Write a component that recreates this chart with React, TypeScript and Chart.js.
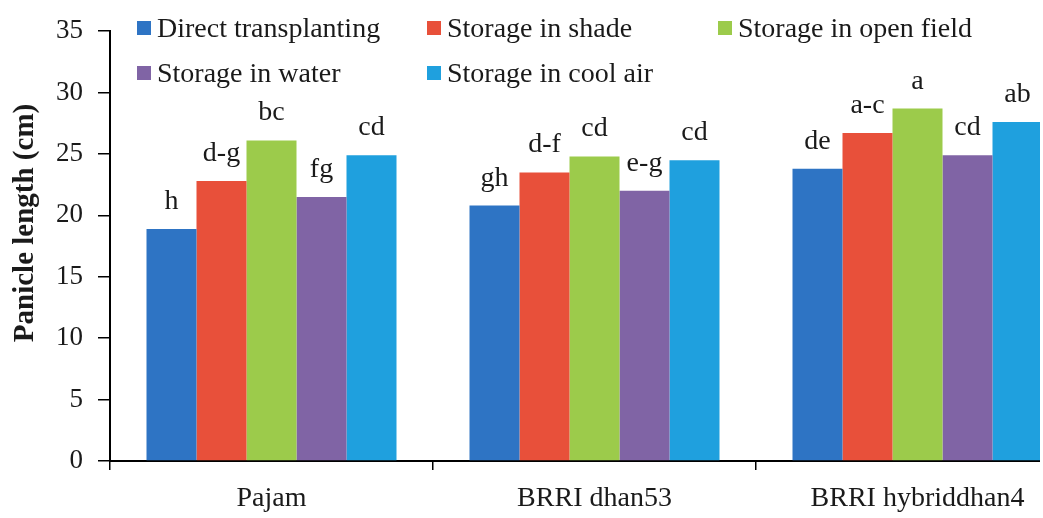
import React, { useEffect, useRef } from "react";
import { Chart, registerables } from "chart.js";

Chart.register(...registerables);

// ---- data ----
const categories = ["Pajam", "BRRI dhan53", "BRRI hybriddhan4"];
const seriesNames = [
  "Direct transplanting",
  "Storage in shade",
  "Storage in open field",
  "Storage in water",
  "Storage in cool air",
];
const directTransplanting = [18.9, 20.8, 23.8];
const storageInShade = [22.8, 23.5, 26.7];
const storageInOpenField = [26.1, 24.8, 28.7];
const storageInWater = [21.5, 22.0, 24.9];
const storageInCoolAir = [24.9, 24.5, 27.6];

const lettersDirect = ["h", "gh", "de"];
const lettersShade = ["d-g", "d-f", "a-c"];
const lettersOpenField = ["bc", "cd", "a"];
const lettersWater = ["fg", "e-g", "cd"];
const lettersCoolAir = ["cd", "cd", "ab"];

const yMin = 0;
const yMax = 35;
const yStep = 5;
const yAxisTitle = "Panicle length (cm)";

const seriesColors = ["#2e74c4", "#e8503a", "#9ccb4b", "#8064a5", "#1fa0de"];

// ---- styling helpers ----
const FONT = "'Liberation Serif', 'Times New Roman', serif";
const TEXT = "#1a1a1a";

const overlayPlugin = {
  id: "overlay",
  afterDraw(chart: any) {
    const ctx = chart.ctx;
    const letters = [lettersDirect, lettersShade, lettersOpenField, lettersWater, lettersCoolAir];
    ctx.save();
    // significance letters above bars
    ctx.fillStyle = TEXT;
    ctx.font = `28px ${FONT}`;
    ctx.textAlign = "center";
    ctx.textBaseline = "alphabetic";
    chart.data.datasets.forEach((ds: any, di: number) => {
      const meta = chart.getDatasetMeta(di);
      meta.data.forEach((bar: any, i: number) => {
        ctx.fillText(letters[di][i], bar.x, bar.y - 20);
      });
    });

    // legend (3 columns x 2 rows, inside the plot)
    const cols = [137, 427, 718];
    const rows = [37, 82];
    ctx.font = `28px ${FONT}`;
    ctx.textAlign = "left";
    chart.data.datasets.forEach((ds: any, i: number) => {
      const x = cols[i % 3];
      const y = rows[Math.floor(i / 3)];
      ctx.fillStyle = ds.backgroundColor;
      ctx.fillRect(x, y - 16, 14, 14);
      ctx.fillStyle = TEXT;
      ctx.fillText(ds.label, x + 20, y);
    });

    // y axis title
    ctx.translate(33, 223);
    ctx.rotate(-Math.PI / 2);
    ctx.textAlign = "center";
    ctx.font = `bold 29px ${FONT}`;
    ctx.fillStyle = TEXT;
    ctx.fillText(yAxisTitle, 0, 0);
    ctx.restore();
  },
};

export default function App() {
  const canvasRef = useRef<HTMLCanvasElement | null>(null);

  useEffect(() => {
    if (!canvasRef.current) return;
    const values = [directTransplanting, storageInShade, storageInOpenField, storageInWater, storageInCoolAir];
    const chart = new Chart(canvasRef.current, {
      type: "bar",
      data: {
        labels: categories,
        datasets: seriesNames.map((name, i) => ({
          label: name,
          data: values[i],
          backgroundColor: seriesColors[i],
          borderWidth: 0,
          barPercentage: 1,
          categoryPercentage: 0.774,
        })),
      },
      options: {
        animation: false,
        responsive: false,
        devicePixelRatio: 1,
        layout: { padding: { left: 0, top: 23, right: 1, bottom: 0 } },
        plugins: {
          legend: { display: false },
          tooltip: { enabled: false },
          title: { display: false },
        },
        scales: {
          x: {
            type: "category",
            offset: true,
            grid: {
              offset: true,
              drawOnChartArea: false,
              drawTicks: true,
              tickLength: 9,
              color: "#000",
              lineWidth: 1.5,
            },
            border: { display: true, color: "#000", width: 2 },
            ticks: {
              color: TEXT,
              font: { family: FONT, size: 28 },
              padding: 12,
              maxRotation: 0,
              autoSkip: false,
            },
            afterFit: (s: any) => {
              s.height = 57;
            },
          },
          y: {
            min: yMin,
            max: yMax,
            grid: {
              drawOnChartArea: false,
              drawTicks: true,
              tickLength: 12,
              color: "#000",
              lineWidth: 1.5,
            },
            border: { display: true, color: "#000", width: 2 },
            ticks: {
              stepSize: yStep,
              color: TEXT,
              font: { family: FONT, size: 27 },
              padding: 15,
            },
            afterFit: (s: any) => {
              s.width = 110;
            },
          },
        },
      },
      plugins: [overlayPlugin],
    });
    return () => chart.destroy();
  }, []);

  return (
    <div
      style={{
        position: "fixed",
        left: 0,
        top: 0,
        width: 1040,
        height: 518,
        overflow: "hidden",
        background: "#fff",
      }}
    >
      <canvas ref={canvasRef} width={1080} height={518} style={{ display: "block" }} />
    </div>
  );
}
